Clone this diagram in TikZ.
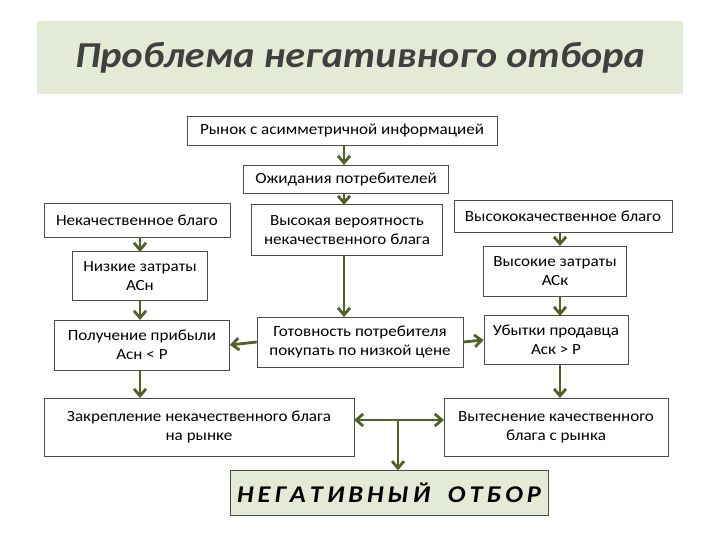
\documentclass[tikz,border=0pt]{standalone}
\usepackage{fontspec}
\setmainfont{Carlito}[FakeStretch=1.1]
\usetikzlibrary{arrows.meta}
\definecolor{arr}{HTML}{4F6228}
\definecolor{lg}{HTML}{E3EAD5}
\begin{document}
\begin{tikzpicture}[x=1pt,y=-1pt,
  bx/.style={draw=black!70,line width=0.6pt,fill=white,align=center,font=\fontsize{15.5}{19}\selectfont,inner sep=0pt},
  ar/.style={draw=arr,line width=2.8pt,-{Straight Barb[length=7pt,width=12pt]}}]
\useasboundingbox (0,0) rectangle (720,540);
\node[fill=lg,minimum width=646,minimum height=73,font=\fontsize{36.5}{42}\selectfont\bfseries\itshape,text=black!75] (t) at (360,58) {Проблема негативного отбора};
\node[bx,minimum width=310,minimum height=29] (b1) at (342,131) {Рынок с асимметричной информацией};
\node[bx,minimum width=205,minimum height=28] (b2) at (346,179) {Ожидания потребителей};
\node[bx,minimum width=186,minimum height=34] (b3) at (137,220) {Некачественное благо};
\node[bx,minimum width=191,minimum height=51] (b4) at (347,230) {Высокая вероятность\\некачественного блага};
\node[bx,minimum width=218,minimum height=32] (b5) at (563,216) {Высококачественное благо};
\node[bx,minimum width=135,minimum height=49] (b6) at (140,276) {Низкие затраты\\АСн};
\node[bx,minimum width=143,minimum height=50] (b7) at (555,271) {Высокие затраты\\АСк};
\node[bx,minimum width=175,minimum height=50] (b8) at (142,345) {Получение прибыли\\Асн < Р};
\node[bx,minimum width=206,minimum height=50] (b9) at (360,342) {Готовность потребителя\\покупать по низкой цене};
\node[bx,minimum width=144,minimum height=49] (b10) at (556,340) {Убытки продавца\\Аск > Р};
\node[bx,minimum width=310,minimum height=58] (b11) at (199,427) {Закрепление некачественного блага\\на рынке};
\node[bx,minimum width=224,minimum height=58] (b12) at (556,427) {Вытеснение качественного\\блага с рынка};
\node[draw=black!70,fill=lg,minimum width=318,minimum height=45,font=\fontsize{24}{28}\selectfont\bfseries\itshape] (b13) at (389,493) {Н\,Е\,Г\,А\,Т\,И\,В\,Н\,Ы\,Й\ \ \ О\,Т\,Б\,О\,Р};
\draw[ar] (b1.south-|344,0) -- (344,165);
\draw[ar] (b2.south-|344,0) -- (344,205);
\draw[ar] (344,256) -- (344,317);
\draw[ar] (140,237) -- (140,252);
\draw[ar] (140,301) -- (140,320);
\draw[ar] (140,370) -- (140,398);
\draw[ar] (560,232) -- (560,246);
\draw[ar] (560,296) -- (560,316);
\draw[ar] (560,365) -- (560,398);
\draw[ar] (b9.west) -- (b8.east);
\draw[ar] (b9.east) -- (b10.west);
\coordinate (j) at (398,420);
\draw[ar] (j) -- (354,420);
\draw[ar] (j) -- (444,420);
\draw[ar] (j) -- (b13.north-|j);
\end{tikzpicture}
\end{document}
